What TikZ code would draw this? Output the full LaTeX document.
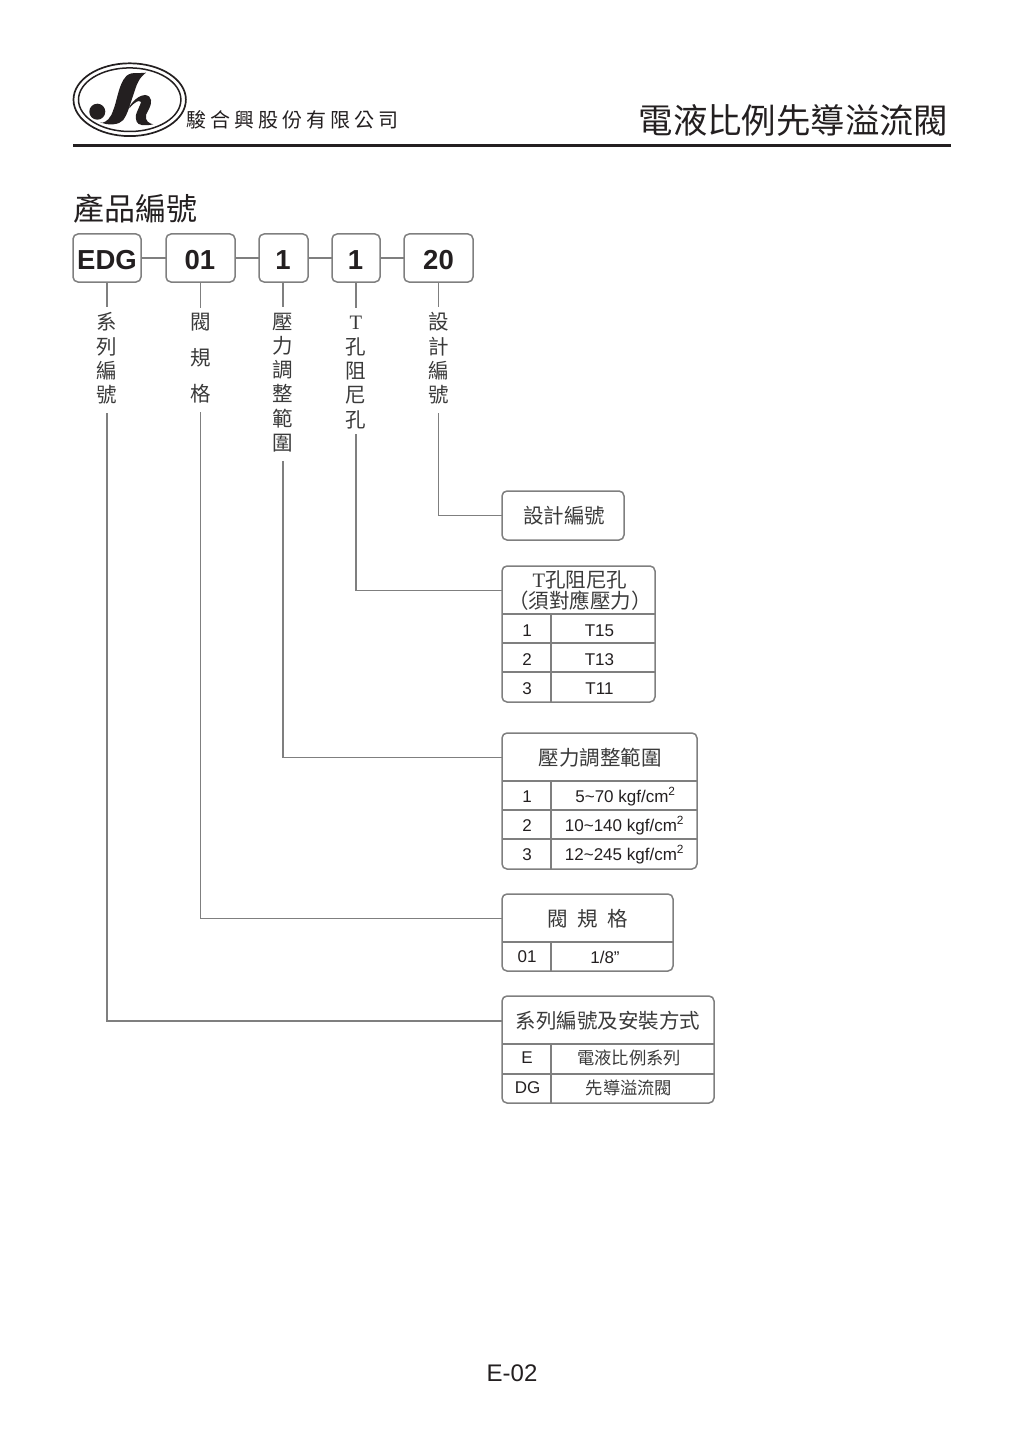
\documentclass[tikz,border=0pt]{standalone}
\usepackage{fontspec}
\setmainfont{Liberation Sans}
\newfontfamily\cjk{Noto Sans CJK TC}
\newfontfamily\cjkco[LetterSpace=20]{Noto Sans CJK TC}
\newfontfamily\tser{Liberation Serif}
\definecolor{ink}{HTML}{231F20}
\definecolor{lbl}{HTML}{3A3A3A}
\definecolor{wire}{HTML}{7F7F7F}
\tikzset{
  codebox/.style={draw=wire,line width=1.5pt,rounded corners=5pt,anchor=north west,inner sep=0pt,outer sep=0pt},
  frame/.style={draw=wire,line width=1.5pt,rounded corners=5pt,anchor=north west,inner sep=0pt,outer sep=0pt},
  wireline/.style={draw=wire,line width=1.5pt},
  codetext/.style={font=\fontsize{27.5}{30}\selectfont\bfseries,text=ink,inner sep=0pt},
  vlabel/.style={font=\cjk\fontsize{20.5}{24.3}\selectfont,text=lbl,align=center,inner xsep=0pt,inner ysep=5.5pt},
  headtext/.style={font=\cjk\fontsize{20.5}{21.5}\selectfont,text=lbl,align=center,inner sep=0pt},
  celltext/.style={font=\fontsize{17}{19}\selectfont,text=ink,inner sep=0pt},
  cjkcell/.style={font=\cjk\fontsize{17.3}{19}\selectfont,text=lbl,inner sep=0pt},
}
\begin{document}
\begin{tikzpicture}[x=1pt,y=-1pt]
\useasboundingbox (0,0) rectangle (1024,1447);
% logo
\draw[ink,line width=1.7pt] (129.7,99.7) ellipse [x radius=56.2,y radius=36.4];
\draw[ink,line width=1.5pt] (129.7,99.7) ellipse [x radius=51.2,y radius=31.8];
\fill[ink] (97.3,111.7) circle (8);
\fill[ink] (146,72.7) .. controls (141,73.2) and (136,73) .. (131.7,73.3)
  .. controls (127,74.5) and (125,77) .. (123.3,80)
  .. controls (120.5,85) and (119,90) .. (117.7,95)
  .. controls (116,101) and (115,106) .. (113.3,110)
  .. controls (112,114) and (110.5,117) .. (108.3,119.3)
  .. controls (106.5,121) and (104.5,122.2) .. (102.7,122.7)
  -- (100,122)
  .. controls (104,124) and (109,124.8) .. (113.3,124.3)
  .. controls (118,123.8) and (121,122.5) .. (123.3,120)
  .. controls (125.5,117) and (127,113.5) .. (128.3,110)
  .. controls (130,105) and (131.5,100) .. (133.3,95)
  .. controls (135,90) and (136,86) .. (138.3,81.7)
  .. controls (140,78) and (143,75) .. (146,72.7) -- cycle;
\fill[ink] (129.3,106.7) .. controls (132,102.5) and (135,99.5) .. (138.3,97.3)
  .. controls (140.5,96) and (143,95) .. (145,95)
  .. controls (148.5,95.3) and (151,97.5) .. (151,100)
  .. controls (151.3,102.5) and (151,104.5) .. (150,106.7)
  .. controls (149,110) and (147,112) .. (146,115)
  .. controls (145.5,118) and (146,120) .. (147.7,121.7)
  .. controls (149.5,123.2) and (151.5,124) .. (153.3,124.3)
  .. controls (149,125.3) and (145,125.5) .. (141.7,125)
  .. controls (139,124.5) and (137.5,123.5) .. (136.7,121.7)
  .. controls (135.7,119.5) and (135.6,117) .. (136,115)
  .. controls (137,111) and (139,108) .. (140,105)
  .. controls (141,103) and (141,102.2) .. (140.7,101.7)
  .. controls (139.5,100.8) and (138,101) .. (136.7,101.7)
  .. controls (134,103) and (131.5,105.5) .. (129.3,108.3) -- cycle;
\node[font=\cjkco\fontsize{20}{22}\selectfont,text=ink,anchor=west,inner sep=0pt] (co) at (186,120) {駿合興股份有限公司};
\node[font=\cjk\fontsize{34.4}{36}\selectfont,text=ink,anchor=east,inner sep=0pt] (title) at (948.5,120) {電液比例先導溢流閥};
\coordinate (ruleL) at (73,146);
\coordinate (ruleR) at (951,146);
\draw[ink,line width=3pt] (ruleL) -- (ruleR);
\node[font=\cjk\fontsize{31}{33}\selectfont,text=ink,anchor=west,inner sep=0pt] (sec) at (73,209) {產品編號};
% code boxes
\node[codebox,minimum width=68pt,minimum height=48pt] (c1) at (73,234) {};
\node[codebox,minimum width=69pt,minimum height=48pt] (c2) at (166,234) {};
\node[codebox,minimum width=49pt,minimum height=48pt] (c3) at (259,234) {};
\node[codebox,minimum width=48pt,minimum height=48pt] (c4) at (332,234) {};
\node[codebox,minimum width=69pt,minimum height=48pt] (c5) at (404,234) {};
\node[codetext] (t1) at (107,260.5) {EDG};
\node[codetext] (t2) at (200,260.5) {01};
\node[codetext] (t3) at (283,260.5) {1};
\node[codetext] (t4) at (355.5,260.5) {1};
\node[codetext] (t5) at (438.5,260.5) {20};
\draw[wireline] (c1) -- (c2);
\draw[wireline] (c2) -- (c3);
\draw[wireline] (c3) -- (c4);
\draw[wireline] (c4) -- (c5);
% vertical labels
\node[vlabel] (l1) at (107,358.5) {系\\列\\編\\號};
\node[vlabel] (l2) at (200.5,358.5) {閥\\[11.7pt]規\\[11.7pt]格};
\node[vlabel] (l3) at (283,382.5) {壓\\力\\調\\整\\範\\圍};
\node[vlabel] (l4) at (356,371) {\vphantom{孔}{\tser T}\\孔\\阻\\尼\\孔};
\node[vlabel] (l5) at (438.5,358.5) {設\\計\\編\\號};
\foreach \n in {1,...,5}{\draw[wireline] (l\n.north |- c\n.south) -- (l\n.north);}
% frames
\node[frame,minimum width=122pt,minimum height=49pt] (fD) at (502,491) {};
\node[headtext] (hD) at (564,515.5) {設計編號};
\node[frame,minimum width=153pt,minimum height=136pt] (fT) at (502,566) {};
\node[headtext] (hT) at (580,590.5) {{\tser T}孔阻尼孔\\（須對應壓力）};
\node[frame,minimum width=195pt,minimum height=136pt] (fP) at (502,733) {};
\node[headtext] (hP) at (600,757.5) {壓力調整範圍};
\node[frame,minimum width=171pt,minimum height=77pt] (fV) at (502,894) {};
\node[headtext] (hV) at (587.5,918.5) {閥\hspace{9.5pt}規\hspace{9.5pt}格};
\node[frame,minimum width=212pt,minimum height=107pt] (fS) at (502,996) {};
\node[headtext] (hS) at (608,1021) {系列編號及安裝方式};
% connectors to frames
\draw[wireline,shorten <=3pt] (l5.south) |- (fD.west);
\draw[wireline] (l4.south) |- (fT.west |- hT.center);
\draw[wireline,shorten <=3pt] (l3.south) |- (fP.west |- hP.center);
\draw[wireline,shorten <=3pt] (l2.south) |- (fV.west |- hV.center);
\draw[wireline,shorten <=3pt] (l1.south) |- (fS.west |- hS.center);
% table rules
\foreach \f/\yy in {fT/614,fT/643,fT/672,fP/781,fP/810,fP/839,fV/942,fS/1044,fS/1074}{
  \draw[wireline] (\f.west |- 0,\yy) -- (\f.east |- 0,\yy);}
\draw[wireline] (551,614) -- (551,702);
\draw[wireline] (551,781) -- (551,869);
\draw[wireline] (551,942) -- (551,971);
\draw[wireline] (551,1044) -- (551,1103);
% cells
\node[celltext] (a1) at (527,630.5) {1};
\node[celltext] (a2) at (527,659.5) {2};
\node[celltext] (a3) at (527,688.5) {3};
\node[celltext] (b1) at (599.5,630.5) {T15};
\node[celltext] (b2) at (599.5,659.5) {T13};
\node[celltext] (b3) at (599.5,688.5) {T11};
\node[celltext] (p1) at (527,796.5) {1};
\node[celltext] (p2) at (527,825.5) {2};
\node[celltext] (p3) at (527,854.5) {3};
\node[celltext] (q1) at (625.5,796.5) {5\char`\~70 kgf/cm\textsuperscript{2}};
\node[celltext] (q2) at (624.5,825.5) {10\char`\~140 kgf/cm\textsuperscript{2}};
\node[celltext] (q3) at (624.5,854.5) {12\char`\~245 kgf/cm\textsuperscript{2}};
\node[celltext] (v1) at (527,957) {01};
\node[celltext] (v2) at (605,957) {1/8”};
\node[celltext] (s1) at (527,1058) {E};
\node[celltext] (s2) at (527.5,1087.5) {DG};
\node[cjkcell] (s3) at (629,1058) {電液比例系列};
\node[cjkcell] (s4) at (629,1088) {先導溢流閥};
\node[font=\fontsize{24}{26}\selectfont,text=ink,inner sep=0pt] (pg) at (512,1373) {E-02};
\end{tikzpicture}
\end{document}
